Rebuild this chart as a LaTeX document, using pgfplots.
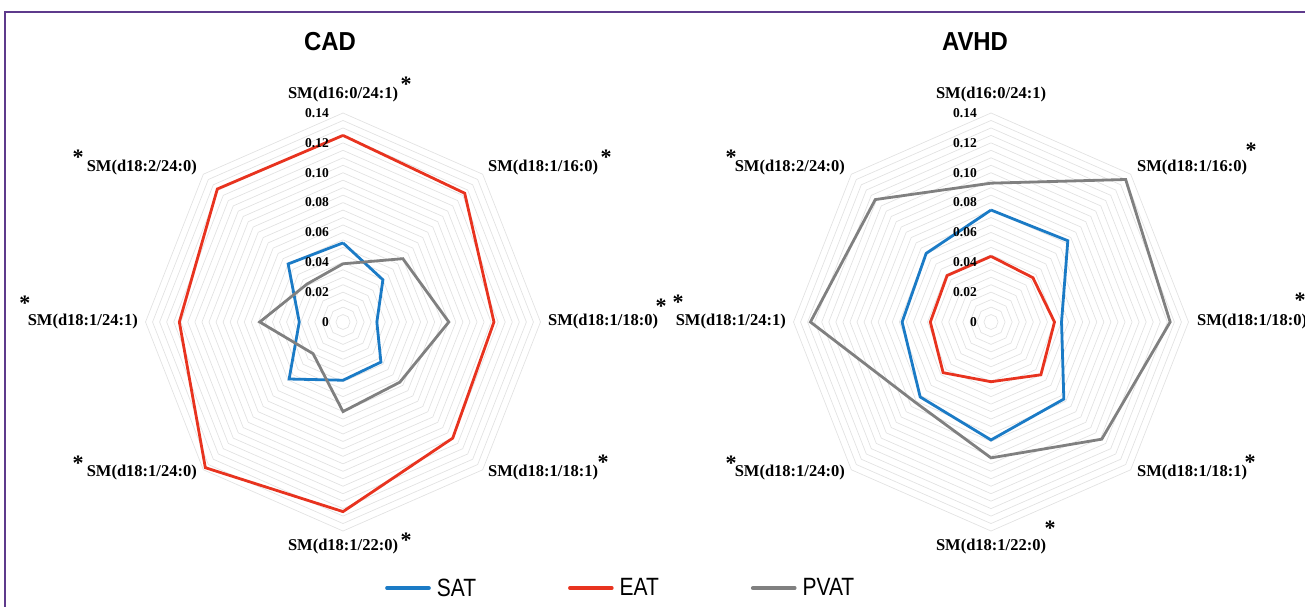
\documentclass[border=0pt]{standalone}
\usepackage{pgfplots}
\pgfplotsset{compat=1.18}
\usepackage{pgfplotstable}
\usepackage{fontspec}
\usepackage{graphicx}
\setmainfont{Liberation Serif}
\newfontfamily\sansf{Liberation Sans}

\definecolor{satc}{HTML}{1B7BC6}
\definecolor{eatc}{HTML}{E8331F}
\definecolor{pvatc}{HTML}{808080}
\definecolor{gridc}{HTML}{E2E2E2}
\definecolor{framec}{HTML}{5E3A8C}

% angle: 90 = SM(d16:0/24:1), then clockwise
\pgfplotstableread{
angle sat eat pvat
90   0.053 0.125 0.039
45   0.040 0.122 0.060
0    0.024 0.107 0.075
-45  0.038 0.110 0.057
-90  0.039 0.127 0.060
-135 0.054 0.138 0.030
-180 0.031 0.116 0.059
-225 0.055 0.126 0.036
-270 0.053 0.125 0.039
}\cad

\pgfplotstableread{
angle sat eat pvat
90   0.075 0.044 0.093
45   0.077 0.042 0.135
0    0.050 0.045 0.127
-45  0.073 0.050 0.111
-90  0.079 0.040 0.091
-135 0.071 0.048 0.076
-180 0.063 0.043 0.128
-225 0.065 0.044 0.116
-270 0.075 0.044 0.093
}\avhd

\tikzset{
  lbl/.style={inner sep=0pt, font=\bfseries\fontsize{16.5}{18}\selectfont},
  star/.style={inner sep=0pt, font=\bfseries\fontsize{22}{22}\selectfont},
  tickl/.style={inner sep=0pt, anchor=east, font=\bfseries\fontsize{13.5}{14}\selectfont},
}

\pgfplotsset{
  radar/.style={scale only axis, width=395pt, height=418pt,
    xmin=-0.14, xmax=0.14, ymin=-0.14, ymax=0.14,
    hide axis, clip=false, anchor=center},
  ring/.style={gridc, line width=0.7pt, forget plot, data cs=polar},
  ser/.style={line width=2.8pt, line join=miter, data cs=polar},
}

\newcommand\rings{%
  \pgfplotsinvokeforeach{0.005,0.010,0.015,0.020,0.025,0.030,0.035,0.040,0.045,0.050,0.055,0.060,0.065,0.070,0.075,0.080,0.085,0.090,0.095,0.100,0.105,0.110,0.115,0.120,0.125,0.130,0.135,0.140}{%
    \addplot[ring] coordinates {(90,##1) (45,##1) (0,##1) (-45,##1) (-90,##1) (-135,##1) (180,##1) (135,##1) (90,##1)};
  }%
}
\newcommand\ticklabels{%
  \node[tickl] at (axis cs:-0.0099,0) {0};
  \node[tickl] at (axis cs:-0.0099,0.02) {0.02};
  \node[tickl] at (axis cs:-0.0099,0.04) {0.04};
  \node[tickl] at (axis cs:-0.0099,0.06) {0.06};
  \node[tickl] at (axis cs:-0.0099,0.08) {0.08};
  \node[tickl] at (axis cs:-0.0099,0.10) {0.10};
  \node[tickl] at (axis cs:-0.0099,0.12) {0.12};
  \node[tickl] at (axis cs:-0.0099,0.14) {0.14};
}

\begin{document}
\begin{tikzpicture}
\path[use as bounding box] (0pt,0pt) rectangle (1305pt,-606pt);
\draw[framec, line width=2.6pt] (5pt,-620pt) -- (5pt,-12pt) -- (1320pt,-12pt);

\begin{axis}[radar, at={(343pt,-322pt)},
  legend columns=3,
  legend image code/.code={\draw[#1, line width=3.6pt, line cap=round] (0pt,0pt) -- (42pt,0pt);},
  legend style={draw=none, fill=none, inner sep=0pt,
    at={(axis description cs:0.6063,-0.1364)}, anchor=west,
    font=\sansf\fontsize{25}{25}\selectfont,
    /tikz/every odd column/.append style={column sep=4pt},
    /tikz/every even column/.append style={column sep=90pt}},
]
\rings
\addplot[ser, satc] table[x=angle, y=sat] {\cad};
\addlegendentry{\scalebox{0.84}[1]{SAT}}
\addplot[ser, eatc] table[x=angle, y=eat] {\cad};
\addlegendentry{\scalebox{0.84}[1]{EAT}}
\addplot[ser, pvatc] table[x=angle, y=pvat] {\cad};
\addlegendentry{\scalebox{0.84}[1]{PVAT}}
\ticklabels
\end{axis}

\begin{axis}[radar, at={(991pt,-322pt)}]
\rings
\addplot[ser, satc] table[x=angle, y=sat] {\avhd};
\addplot[ser, eatc] table[x=angle, y=eat] {\avhd};
\addplot[ser, pvatc] table[x=angle, y=pvat] {\avhd};
\ticklabels
\end{axis}

% titles
\node[font=\sansf\bfseries\fontsize{26}{26}\selectfont] at (330pt,-42pt) {\scalebox{0.92}[1]{CAD}};
\node[font=\sansf\bfseries\fontsize{26}{26}\selectfont] at (975pt,-42pt) {\scalebox{0.92}[1]{AVHD}};

% CAD category labels
\node[lbl] at (343pt,-95pt) {SM(d16:0/24:1)};
\node[lbl, anchor=west] at (488pt,-168pt) {SM(d18:1/16:0)};
\node[lbl, anchor=west] at (548pt,-322pt) {SM(d18:1/18:0)};
\node[lbl, anchor=west] at (488pt,-473pt) {SM(d18:1/18:1)};
\node[lbl] at (343pt,-547pt) {SM(d18:1/22:0)};
\node[lbl, anchor=east] at (197pt,-473pt) {SM(d18:1/24:0)};
\node[lbl, anchor=east] at (138pt,-322pt) {SM(d18:1/24:1)};
\node[lbl, anchor=east] at (197pt,-168pt) {SM(d18:2/24:0)};
\node[star] at (406pt,-84pt) {*};
\node[star] at (606pt,-157pt) {*};
\node[star] at (661pt,-306pt) {*};
\node[star] at (603pt,-462pt) {*};
\node[star] at (406pt,-540pt) {*};
\node[star] at (78pt,-463pt) {*};
\node[star] at (25pt,-303pt) {*};
\node[star] at (78pt,-157pt) {*};

% AVHD category labels
\node[lbl] at (991pt,-95pt) {SM(d16:0/24:1)};
\node[lbl, anchor=west] at (1137pt,-168pt) {SM(d18:1/16:0)};
\node[lbl, anchor=west] at (1197pt,-322pt) {SM(d18:1/18:0)};
\node[lbl, anchor=west] at (1137pt,-473pt) {SM(d18:1/18:1)};
\node[lbl] at (991pt,-547pt) {SM(d18:1/22:0)};
\node[lbl, anchor=east] at (845pt,-473pt) {SM(d18:1/24:0)};
\node[lbl, anchor=east] at (786pt,-322pt) {SM(d18:1/24:1)};
\node[lbl, anchor=east] at (845pt,-168pt) {SM(d18:2/24:0)};
\node[star] at (1251pt,-150pt) {*};
\node[star] at (1300pt,-300pt) {*};
\node[star] at (1250pt,-462pt) {*};
\node[star] at (1050pt,-528pt) {*};
\node[star] at (731pt,-463pt) {*};
\node[star] at (678pt,-302pt) {*};
\node[star] at (731pt,-157pt) {*};
\end{tikzpicture}
\end{document}
